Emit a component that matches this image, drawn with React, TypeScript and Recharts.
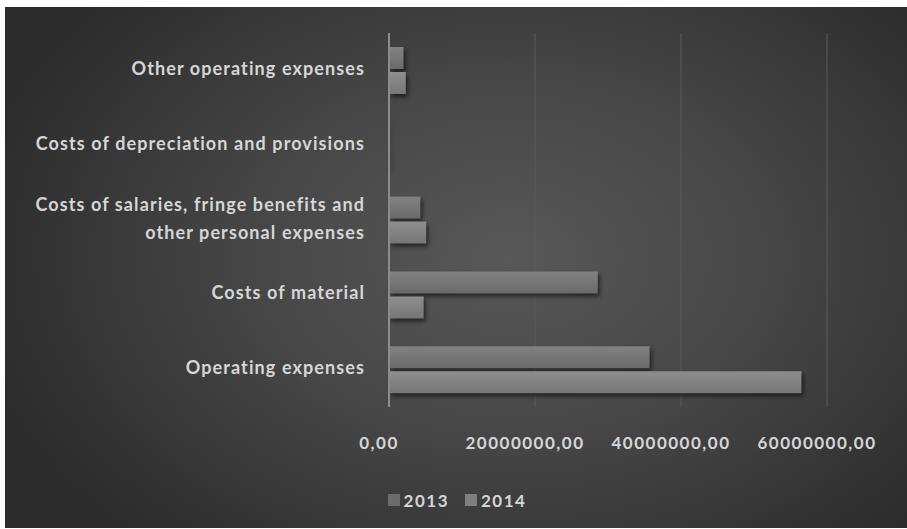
import React from 'react'
import { BarChart, Bar, XAxis, YAxis, CartesianGrid, Legend } from 'recharts'

const CATEGORIES = [
  'Other operating expenses',
  'Costs of depreciation and provisions',
  'Costs of salaries, fringe benefits and other personal expenses',
  'Costs of material',
  'Operating expenses',
]
const VALUES_2013 = [2000000, 80000, 4300000, 28600000, 35700000]
const VALUES_2014 = [2300000, 120000, 5100000, 4750000, 56500000]
const X_TICKS = [0, 20000000, 40000000, 60000000]
const SERIES = ['2013', '2014']

const data = CATEGORIES.map((name, i) => ({
  name,
  y2013: VALUES_2013[i],
  y2014: VALUES_2014[i],
}))

const W = 902
const H = 521
const FONT = 'Lato, "Open Sans", sans-serif'
const TEXT = '#d6d6d6'

const wrap = (s: string) => {
  if (s.length <= 38) return [s]
  const cut = s.lastIndexOf(' ', 38)
  return [s.slice(0, cut), s.slice(cut + 1)]
}

const CategoryTick = (props: any) => {
  const { x, y, payload } = props
  const lines = wrap(payload.value)
  const step = 28
  const start = -((lines.length - 1) * step) / 2
  return (
    <text
      x={x}
      y={y}
      textAnchor="end"
      fill={TEXT}
      fontFamily={FONT}
      fontWeight={700}
      fontSize={18}
      letterSpacing={1.1}
    >
      {lines.map((l, i) => (
        <tspan key={i} x={x} y={y + start + i * step} dy="0.25em">
          {l}
        </tspan>
      ))}
    </text>
  )
}

const LegendContent = () => (
  <div
    style={{
      display: 'flex',
      justifyContent: 'center',
      gap: 16,
      position: 'relative',
      top: -8,
      paddingLeft: 82,
      height: 40,
      boxSizing: 'border-box',
      fontFamily: FONT,
      fontWeight: 700,
      fontSize: 17,
      letterSpacing: 1.5,
      color: TEXT,
    }}
  >
    {SERIES.map((s, i) => (
      <div key={s} style={{ display: 'flex', alignItems: 'center', gap: 4 }}>
        <span
          style={{
            display: 'inline-block',
            width: 12,
            height: 12,
            background: i === 0 ? '#6c6c6c' : '#7e7e7e',
          }}
        />
        <span>{s}</span>
      </div>
    ))}
  </div>
)

export default function App() {
  return (
    <div
      style={{
        position: 'absolute',
        left: 5,
        top: 7,
        width: W,
        height: H,
        background:
          'radial-gradient(ellipse 62% 75% at 56% 48%, #585858 0%, #474747 45%, #353535 80%, #2b2b2b 100%)',
      }}
    >
      <BarChart
        width={W}
        height={H}
        data={data}
        layout="vertical"
        margin={{ top: 26, right: 80, left: 0, bottom: 0 }}
        barSize={22}
        barGap={3}
      >
        <defs>
          <linearGradient id="g2013" x1="0" y1="0" x2="0" y2="1">
            <stop offset="0%" stopColor="#828282" />
            <stop offset="100%" stopColor="#6a6a6a" />
          </linearGradient>
          <linearGradient id="g2014" x1="0" y1="0" x2="0" y2="1">
            <stop offset="0%" stopColor="#8e8e8e" />
            <stop offset="100%" stopColor="#767676" />
          </linearGradient>
        </defs>
        <CartesianGrid horizontal={false} stroke="#5a5a5a" strokeWidth={1} />
        <XAxis
          type="number"
          domain={[0, 60000000]}
          ticks={X_TICKS}
          tickFormatter={(v: number) => `${v},00`}
          axisLine={false}
          tickLine={false}
          tickSize={0}
          tickMargin={30}
          height={81}
          dx={-10}
          tick={{
            fill: TEXT,
            fontFamily: FONT,
            fontWeight: 700,
            fontSize: 17,
            letterSpacing: 1.5,
          }}
        />
        <YAxis
          type="category"
          dataKey="name"
          width={384}
          axisLine={{ stroke: '#8c8c8c', strokeWidth: 2 }}
          tickLine={false}
          tickSize={0}
          tickMargin={24}
          tick={<CategoryTick />}
          interval={0}
        />
        <Legend verticalAlign="bottom" content={<LegendContent />} />
        <Bar
          dataKey="y2013"
          name="2013"
          fill="url(#g2013)"
          isAnimationActive={false}
          style={{ filter: 'drop-shadow(2px 3px 2px rgba(0,0,0,0.55))' }}
        />
        <Bar
          dataKey="y2014"
          name="2014"
          fill="url(#g2014)"
          isAnimationActive={false}
          style={{ filter: 'drop-shadow(2px 3px 2px rgba(0,0,0,0.55))' }}
        />
      </BarChart>
    </div>
  )
}
